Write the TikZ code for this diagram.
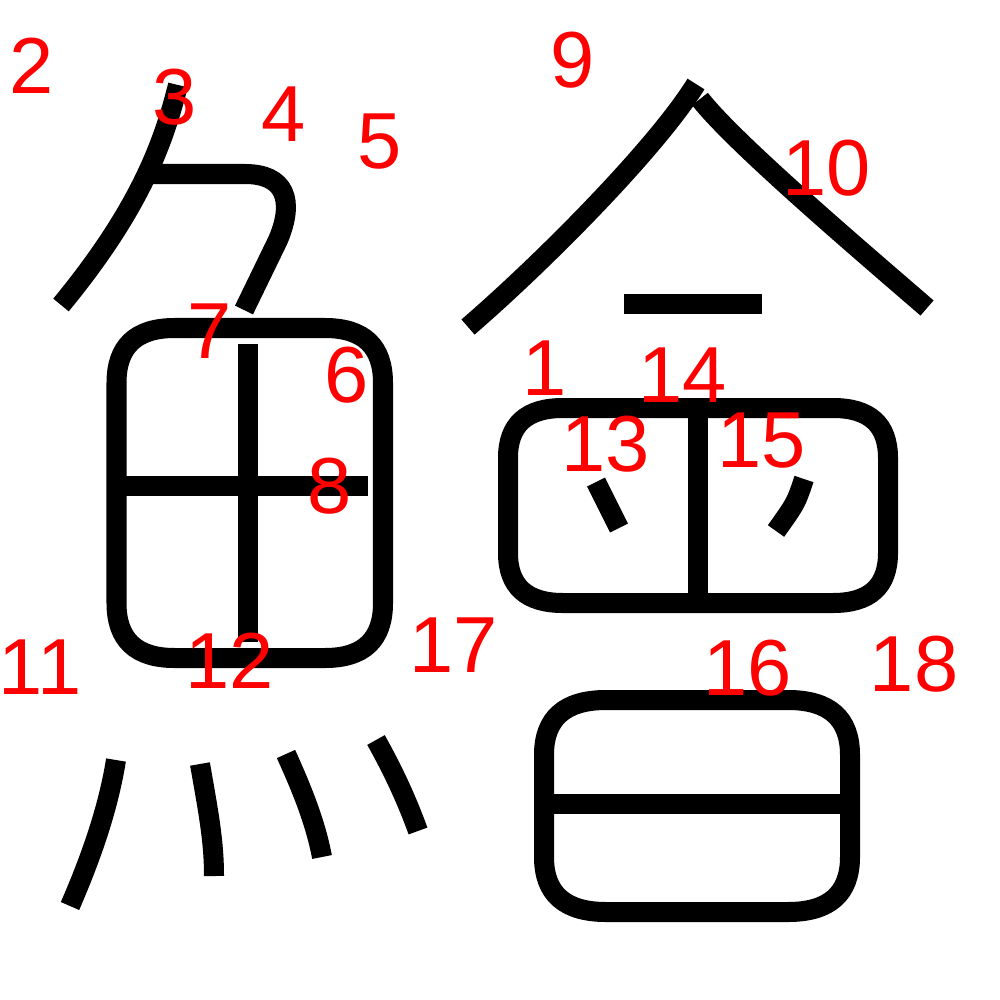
\documentclass[tikz,border=0pt]{standalone}
\usepackage{fontspec}
\setmainfont{Liberation Sans}
\tikzset{
  brush/.style={draw=black,line width=0.2cm,line cap=butt},
  num/.style={text=red,inner sep=0pt,font=\fontsize{22.6}{22.6}\selectfont}
}
% box with soft corners: x1,y1,x2,y2,leg x,leg y
\newcommand\softbox[6]{%
  \draw[brush] (#1+#5,#2) -- (#3-#5,#2)
    .. controls (#3-#5/3,#2) and (#3,#2+#6/3) .. (#3,#2+#6) -- (#3,#4-#6)
    .. controls (#3,#4-#6/3) and (#3-#5/3,#4) .. (#3-#5,#4) -- (#1+#5,#4)
    .. controls (#1+#5/3,#4) and (#1,#4-#6/3) .. (#1,#4-#6) -- (#1,#2+#6)
    .. controls (#1,#2+#6/3) and (#1+#5/3,#2) .. cycle;}
\begin{document}
\begin{tikzpicture}[x=0.01cm,y=-0.01cm]
      \useasboundingbox (0,0) rectangle (1000,1000);
      % left part
      \draw[brush] (178,85) .. controls (162,150) and (135,215) .. (61,305);
      \draw[brush] (150,174) -- (245,174) .. controls (285,174) and (295,200) .. (278,240) -- (244,310);
      \softbox{116.5}{328}{383}{658}{58}{55}
      \draw[brush] (248,344) -- (248,642);
      \draw[brush] (116,486) -- (368,486);
      \draw[brush] (116,760) .. controls (108,810) and (90,860) .. (70,906);
      \draw[brush] (200,764) .. controls (208,810) and (214,840) .. (214,876);
      \draw[brush] (286,754) .. controls (300,785) and (315,820) .. (322,857);
      \draw[brush] (376,740) .. controls (390,765) and (405,795) .. (418,831);
      % right part
      \draw[brush] (696,84) .. controls (655,150) and (540,265) .. (468,327);
      \draw[brush] (700,99) .. controls (735,144) and (867,256) .. (927,308);
      \draw[brush] (624,304) -- (762,304);
      \softbox{508}{408}{888}{603}{55}{50}
      \draw[brush] (698,408) -- (698,603);
      \draw[brush] (596,482) -- (619,528);
      \draw[brush] (804,479) .. controls (796,503) .. (776,531);
      \softbox{544}{700}{850}{912}{62}{55}
      \draw[brush] (544,804) -- (850,804);
      % stroke numbers
      \node[num] (n1) at (545,368) {1};
      \node[num] (n2) at (32,66) {2};
      \node[num] (n3) at (175,97) {3};
      \node[num] (n4) at (284,114) {4};
      \node[num] (n5) at (380,142) {5};
      \node[num] (n6) at (347,375) {6};
      \node[num] (n7) at (210,331) {7};
      \node[num] (n8) at (330,486) {8};
      \node[num] (n9) at (573,60) {9};
      \node[num] (n10) at (827,168) {10};
      \node[num] (n11) at (40,667) {11};
      \node[num] (n12) at (230,661) {12};
      \node[num] (n13) at (606,444) {13};
      \node[num] (n14) at (683,375) {14};
      \node[num] (n15) at (762,441) {15};
      \node[num] (n16) at (748,668) {16};
      \node[num] (n17) at (454,645) {17};
      \node[num] (n18) at (914,664) {18};
\end{tikzpicture}
\end{document}
